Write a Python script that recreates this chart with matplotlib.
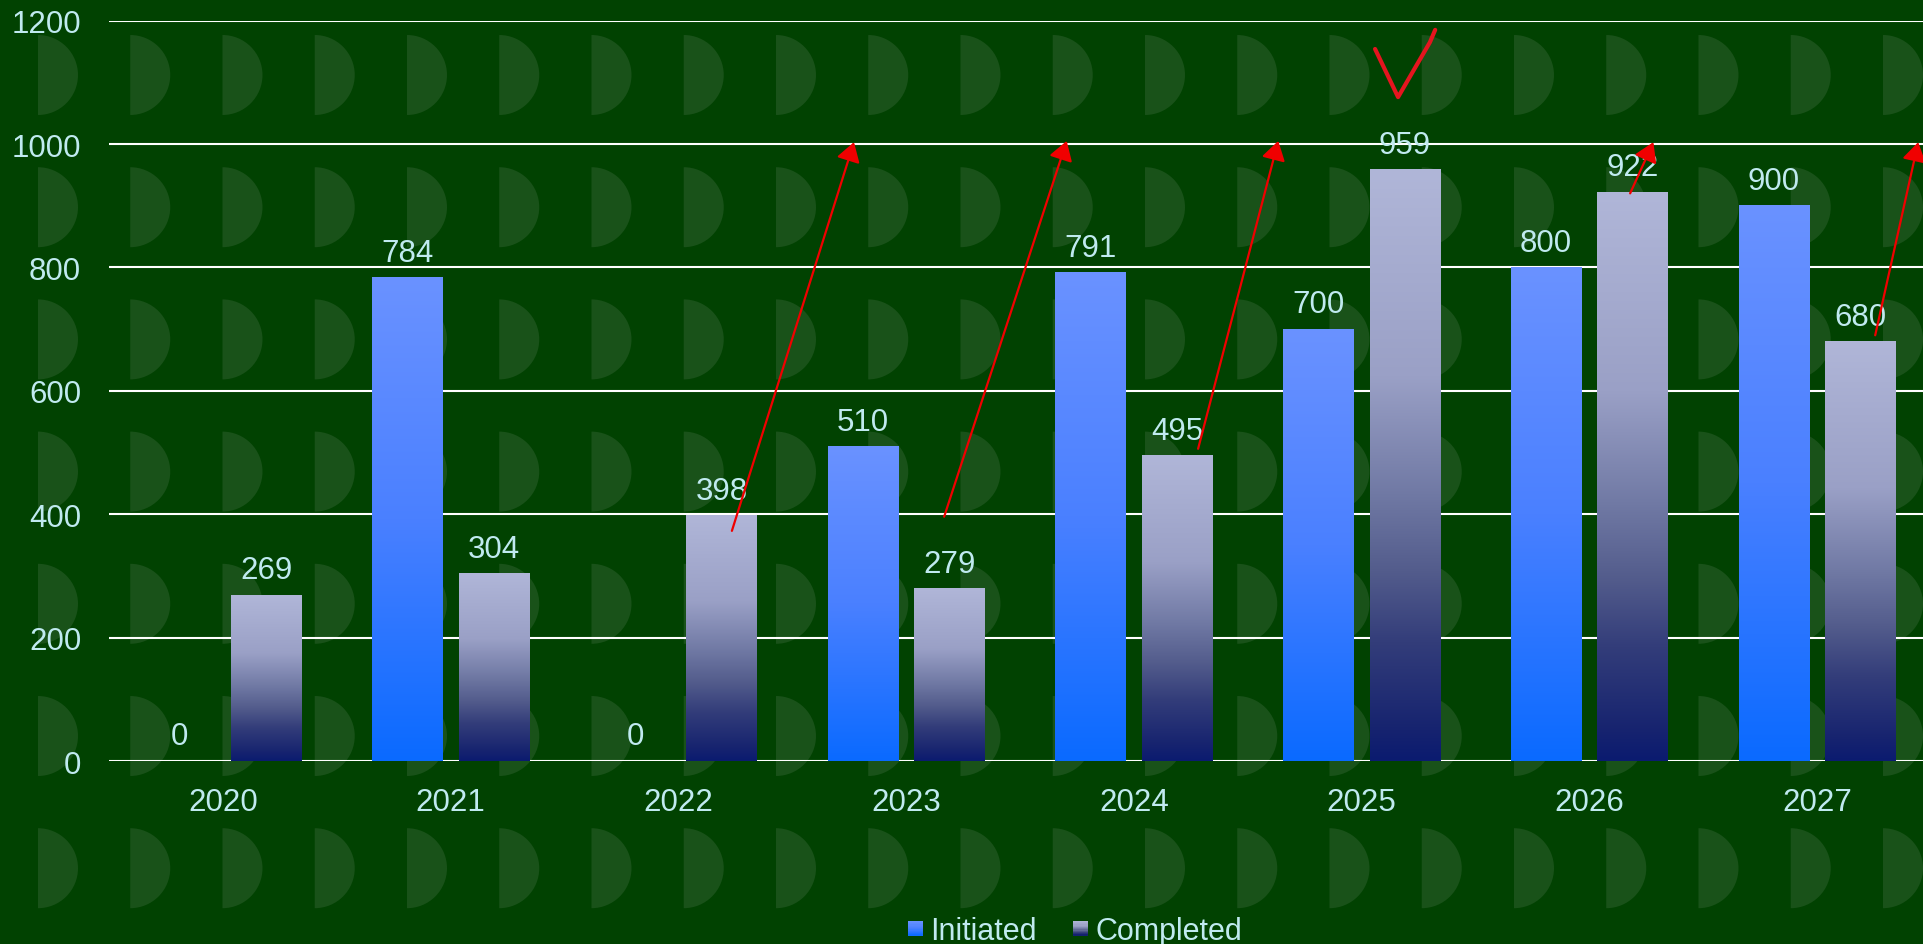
import numpy as np
import matplotlib
matplotlib.use('Agg')
import matplotlib.pyplot as plt
from matplotlib.patches import Wedge, Rectangle
from matplotlib.colors import LinearSegmentedColormap
from matplotlib.legend_handler import HandlerBase

# ---------------- data ----------------
years = ['2020', '2021', '2022', '2023', '2024', '2025', '2026', '2027']
initiated = [0, 784, 0, 510, 791, 700, 800, 900]
completed = [269, 304, 398, 279, 495, 959, 922, 680]
series_names = ['Initiated', 'Completed']
y_ticks = [0, 200, 400, 600, 800, 1000, 1200]

# ---------------- style ----------------
plt.rcParams['font.family'] = ['Liberation Sans', 'DejaVu Sans']
BG = '#014201'
D_COLOR = '#195219'
TEXT = '#C0EAF0'
W, H = 1923, 945
FS = 22.5

cmap_init = LinearSegmentedColormap.from_list('init', ['#0A6AFF', '#4A80FF', '#6A92FF'])
cmap_comp = LinearSegmentedColormap.from_list(
    'comp', [(0.0, '#0B1B70'), (0.05, '#16236F'), (0.2, '#333D7A'), (0.32, '#535C8C'),
             (0.45, '#7079A4'), (0.65, '#9AA0C6'), (1.0, '#B0B6D8')])

fig = plt.figure(figsize=(W / 100, H / 100), dpi=100)
fig.patch.set_facecolor(BG)

# decorative background pattern (half discs)
bg = fig.add_axes([0, 0, 1, 1], zorder=0)
bg.set_xlim(0, W)
bg.set_ylim(H, 0)
bg.axis('off')
for cx in np.arange(38, W + 50, 92.25):
    for cy in np.arange(76, H + 60, 132.2):
        bg.add_patch(Wedge((cx, cy), 40, -90, 90, facecolor=D_COLOR, edgecolor='none'))

# main axes
ax = fig.add_axes([109 / W, 1 - 762 / H, 1822 / W, (762 - 21.6) / H], zorder=1)
ax.set_facecolor('none')

x = np.arange(len(years))
width = 0.31
off = 0.19


def gradient_bars(xs, vals, cmap):
    bars = ax.bar(xs, vals, width, color='none', edgecolor='none', zorder=3)
    grad = np.linspace(0, 1, 256).reshape(-1, 1)
    for rect in bars:
        x0, y0 = rect.get_x(), rect.get_y()
        w, h = rect.get_width(), rect.get_height()
        if h > 0:
            ax.imshow(grad, extent=(x0, x0 + w, y0, y0 + h), origin='lower', cmap=cmap,
                      aspect='auto', zorder=3, interpolation='bilinear')
        ax.annotate(f'{int(round(h))}', xy=(x0 + w / 2, y0 + h), xytext=(0, 12),
                    textcoords='offset points', ha='center', va='baseline',
                    fontsize=FS, color=TEXT, zorder=5)
    return bars


gradient_bars(x - off, initiated, cmap_init)
gradient_bars(x + off, completed, cmap_comp)

ax.set_xlim(-0.5, len(years) - 0.5)
ax.set_ylim(0, 1200)
ax.set_yticks(y_ticks)
ax.set_xticks(x)
ax.set_xticklabels(years)
ax.grid(axis='y', color='white', linewidth=1.5, zorder=1)
ax.set_axisbelow(True)
for s in ax.spines.values():
    s.set_visible(False)
ax.tick_params(axis='both', length=0, labelsize=FS, labelcolor=TEXT)
ax.tick_params(axis='y', pad=20)
ax.tick_params(axis='x', pad=19)

# hand-drawn red annotations
arrows = [((2.235, 373), (2.771, 1003)),
          ((3.167, 396), (3.705, 1005)),
          ((4.282, 506), (4.634, 1005)),
          ((6.179, 920), (6.281, 1003)),
          ((7.255, 690), (7.444, 1003))]
for start, tip in arrows:
    ax.annotate('', xy=tip, xytext=start, zorder=6, annotation_clip=False,
                arrowprops=dict(arrowstyle='-|>,head_length=0.4,head_width=0.25',
                                mutation_scale=29, color='#F00000', lw=1.6,
                                shrinkA=0, shrinkB=0))
check_x = [5.059, 5.160, 5.300, 5.323]
check_y = [1154, 1076, 1165, 1185]
ax.plot(check_x, check_y, color='#E5151F', lw=3, solid_capstyle='round',
        solid_joinstyle='round', zorder=6, clip_on=False)


# legend with gradient squares
class GradHandler(HandlerBase):
    def __init__(self, cmap):
        super().__init__()
        self.cmap = cmap

    def create_artists(self, legend, orig_handle, xdescent, ydescent, width, height,
                       fontsize, trans):
        s = min(width, height)
        x0 = -xdescent + (width - s) / 2
        y0 = -ydescent + (height - s) / 2
        n = 12
        arts = []
        for i in range(n):
            arts.append(Rectangle((x0, y0 + s * i / n), s, s / n * 1.05,
                                  facecolor=self.cmap((i + 0.5) / n), edgecolor='none',
                                  transform=trans))
        return arts


h1 = Rectangle((0, 0), 1, 1)
h2 = Rectangle((0, 0), 1, 1)
fig.legend([h1, h2], series_names, loc='center', bbox_to_anchor=(1075 / W, 1 - 932 / H),
           ncol=2, frameon=False, fontsize=22, handlelength=0.49, handleheight=0.49,
           handletextpad=0.23, columnspacing=1.2, labelcolor=TEXT,
           handler_map={h1: GradHandler(cmap_init), h2: GradHandler(cmap_comp)})

fig.savefig('out.png', dpi=100, facecolor=BG)
